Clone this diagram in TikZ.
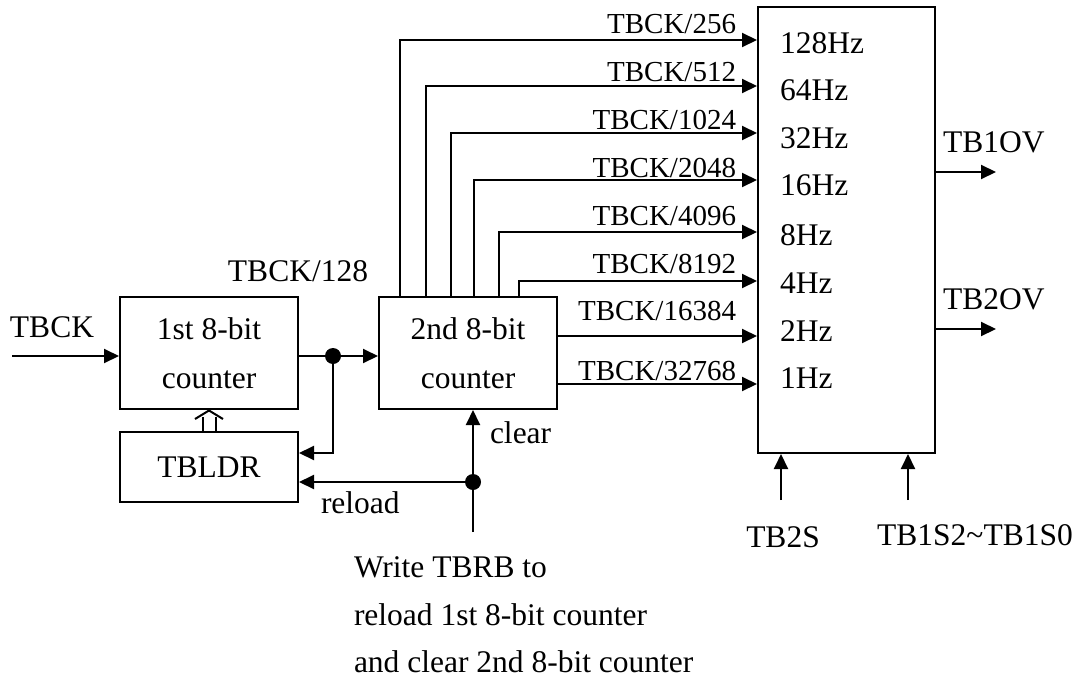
\documentclass[tikz,border=0pt]{standalone}
\usepackage{fontspec}
\setmainfont{Liberation Serif}
\usetikzlibrary{arrows.meta,calc}
\newcommand\mainsz{\fontsize{15.75pt}{24.5pt}\selectfont}
\newcommand\smallsz{\fontsize{14.5pt}{17pt}\selectfont}
\begin{document}
\begin{tikzpicture}[x=0.5pt,y=-0.5pt,
  line width=1pt,
  tip/.style={-{Triangle[length=7.5pt,width=7pt]}},
  blk/.style={draw,line width=1pt,inner sep=0pt,minimum width=89pt,align=center,font=\mainsz},
  lbl/.style={inner sep=0pt,font=\mainsz,text depth=0pt},
  slbl/.style={inner sep=0pt,font=\smallsz,text depth=0pt},
  dot/.style={circle,fill,inner sep=0pt,minimum size=8pt}]
\useasboundingbox (0,0) rectangle (1081,680);

% blocks
\node[blk,minimum height=56pt] (c1) at (209,353) {1st 8-bit\\counter};
\node[blk,minimum height=35pt] (ldr) at (209,467) {TBLDR};
\node[blk,minimum height=56pt] (c2) at (468,353) {2nd 8-bit\\counter};
\node[draw,line width=1pt,inner sep=0pt,minimum width=88.5pt,minimum height=223pt] (big) at (846.5,230) {};

% input
\coordinate (in) at (12,356);
\draw[tip] (in) -- (in -| c1.west);
\node[lbl] (tbck) at (52,327) {TBCK};
\node[lbl] (t128) at (298,271) {TBCK/128};

% first counter output
\node[dot] (d1) at (333,356) {};
\draw (d1 -| c1.east) -- (d1.center);
\draw[tip] (d1.center) -- (d1 -| c2.west);
\coordinate (k1) at (333,453);
\draw[tip] (d1.center) -- (k1) -- (k1 -| ldr.east);

% reload / clear
\node[dot] (d2) at (473,482) {};
\draw[tip] (d2.center) -- (d2 -| ldr.east);
\coordinate (w) at (473,532);
\draw[tip] (w) -- (w |- c2.south);
\node[lbl,anchor=west] (clr) at (489,433) {clear};
\node[lbl,anchor=west] (rld) at (320,503) {reload};
\node[lbl,anchor=west] (wr1) at (353,567) {Write TBRB to};
\node[lbl,anchor=west] (wr2) at (353,615) {reload 1st 8-bit counter};
\node[lbl,anchor=west] (wr3) at (353,662) {and clear 2nd 8-bit counter};

% hollow load arrow
\draw ($(ldr.north)+(-6.5,0)$) -- ++(0,-14);
\draw ($(ldr.north)+(6.5,0)$) -- ++(0,-14);
\draw ($(c1.south)+(-14,9)$) -- ($(c1.south)+(0,0.5)$) -- ($(c1.south)+(14,9)$);

% taps from second counter
\coordinate (t1) at (400,40);
\coordinate (t2) at (426,86);
\coordinate (t3) at (451,133);
\coordinate (t4) at (474,180);
\coordinate (t5) at (499,232);
\coordinate (t6) at (519,281);
\foreach \t in {t1,t2,t3,t4,t5,t6}
  \draw[tip] (\t |- c2.north) -- (\t) -- (\t -| big.west);
\coordinate (t7) at (557,336);
\coordinate (t8) at (557,384);
\draw[tip] (t7 -| c2.east) -- (t7 -| big.west);
\draw[tip] (t8 -| c2.east) -- (t8 -| big.west);

\node[slbl,anchor=east] (l1) at (737,24) {TBCK/256};
\node[slbl,anchor=east] (l2) at (737,72) {TBCK/512};
\node[slbl,anchor=east] (l3) at (737,120) {TBCK/1024};
\node[slbl,anchor=east] (l4) at (737,168) {TBCK/2048};
\node[slbl,anchor=east] (l5) at (737,216) {TBCK/4096};
\node[slbl,anchor=east] (l6) at (737,264) {TBCK/8192};
\node[slbl,anchor=east] (l7) at (737,311) {TBCK/16384};
\node[slbl,anchor=east] (l8) at (737,371) {TBCK/32768};

% frequencies inside big box
\node[lbl,anchor=west] (f1) at (779,43) {128Hz};
\node[lbl,anchor=west] (f2) at (779,90) {64Hz};
\node[lbl,anchor=west] (f3) at (779,138) {32Hz};
\node[lbl,anchor=west] (f4) at (779,185) {16Hz};
\node[lbl,anchor=west] (f5) at (779,235) {8Hz};
\node[lbl,anchor=west] (f6) at (779,283) {4Hz};
\node[lbl,anchor=west] (f7) at (779,331) {2Hz};
\node[lbl,anchor=west] (f8) at (779,378) {1Hz};

% outputs
\coordinate (o1) at (996,172);
\coordinate (o2) at (996,329);
\draw[tip] (o1 -| big.east) -- (o1);
\draw[tip] (o2 -| big.east) -- (o2);
\node[lbl,anchor=west] (ov1) at (942,142) {TB1OV};
\node[lbl,anchor=west] (ov2) at (942,299) {TB2OV};

% select inputs
\coordinate (s1) at (781,500);
\coordinate (s2) at (908,500);
\draw[tip] (s1) -- (s1 |- big.south);
\draw[tip] (s2) -- (s2 |- big.south);
\node[lbl] (tb2s) at (783,537) {TB2S};
\node[lbl] (tb1s) at (975,535) {TB1S2\textasciitilde TB1S0};
\end{tikzpicture}
\end{document}
